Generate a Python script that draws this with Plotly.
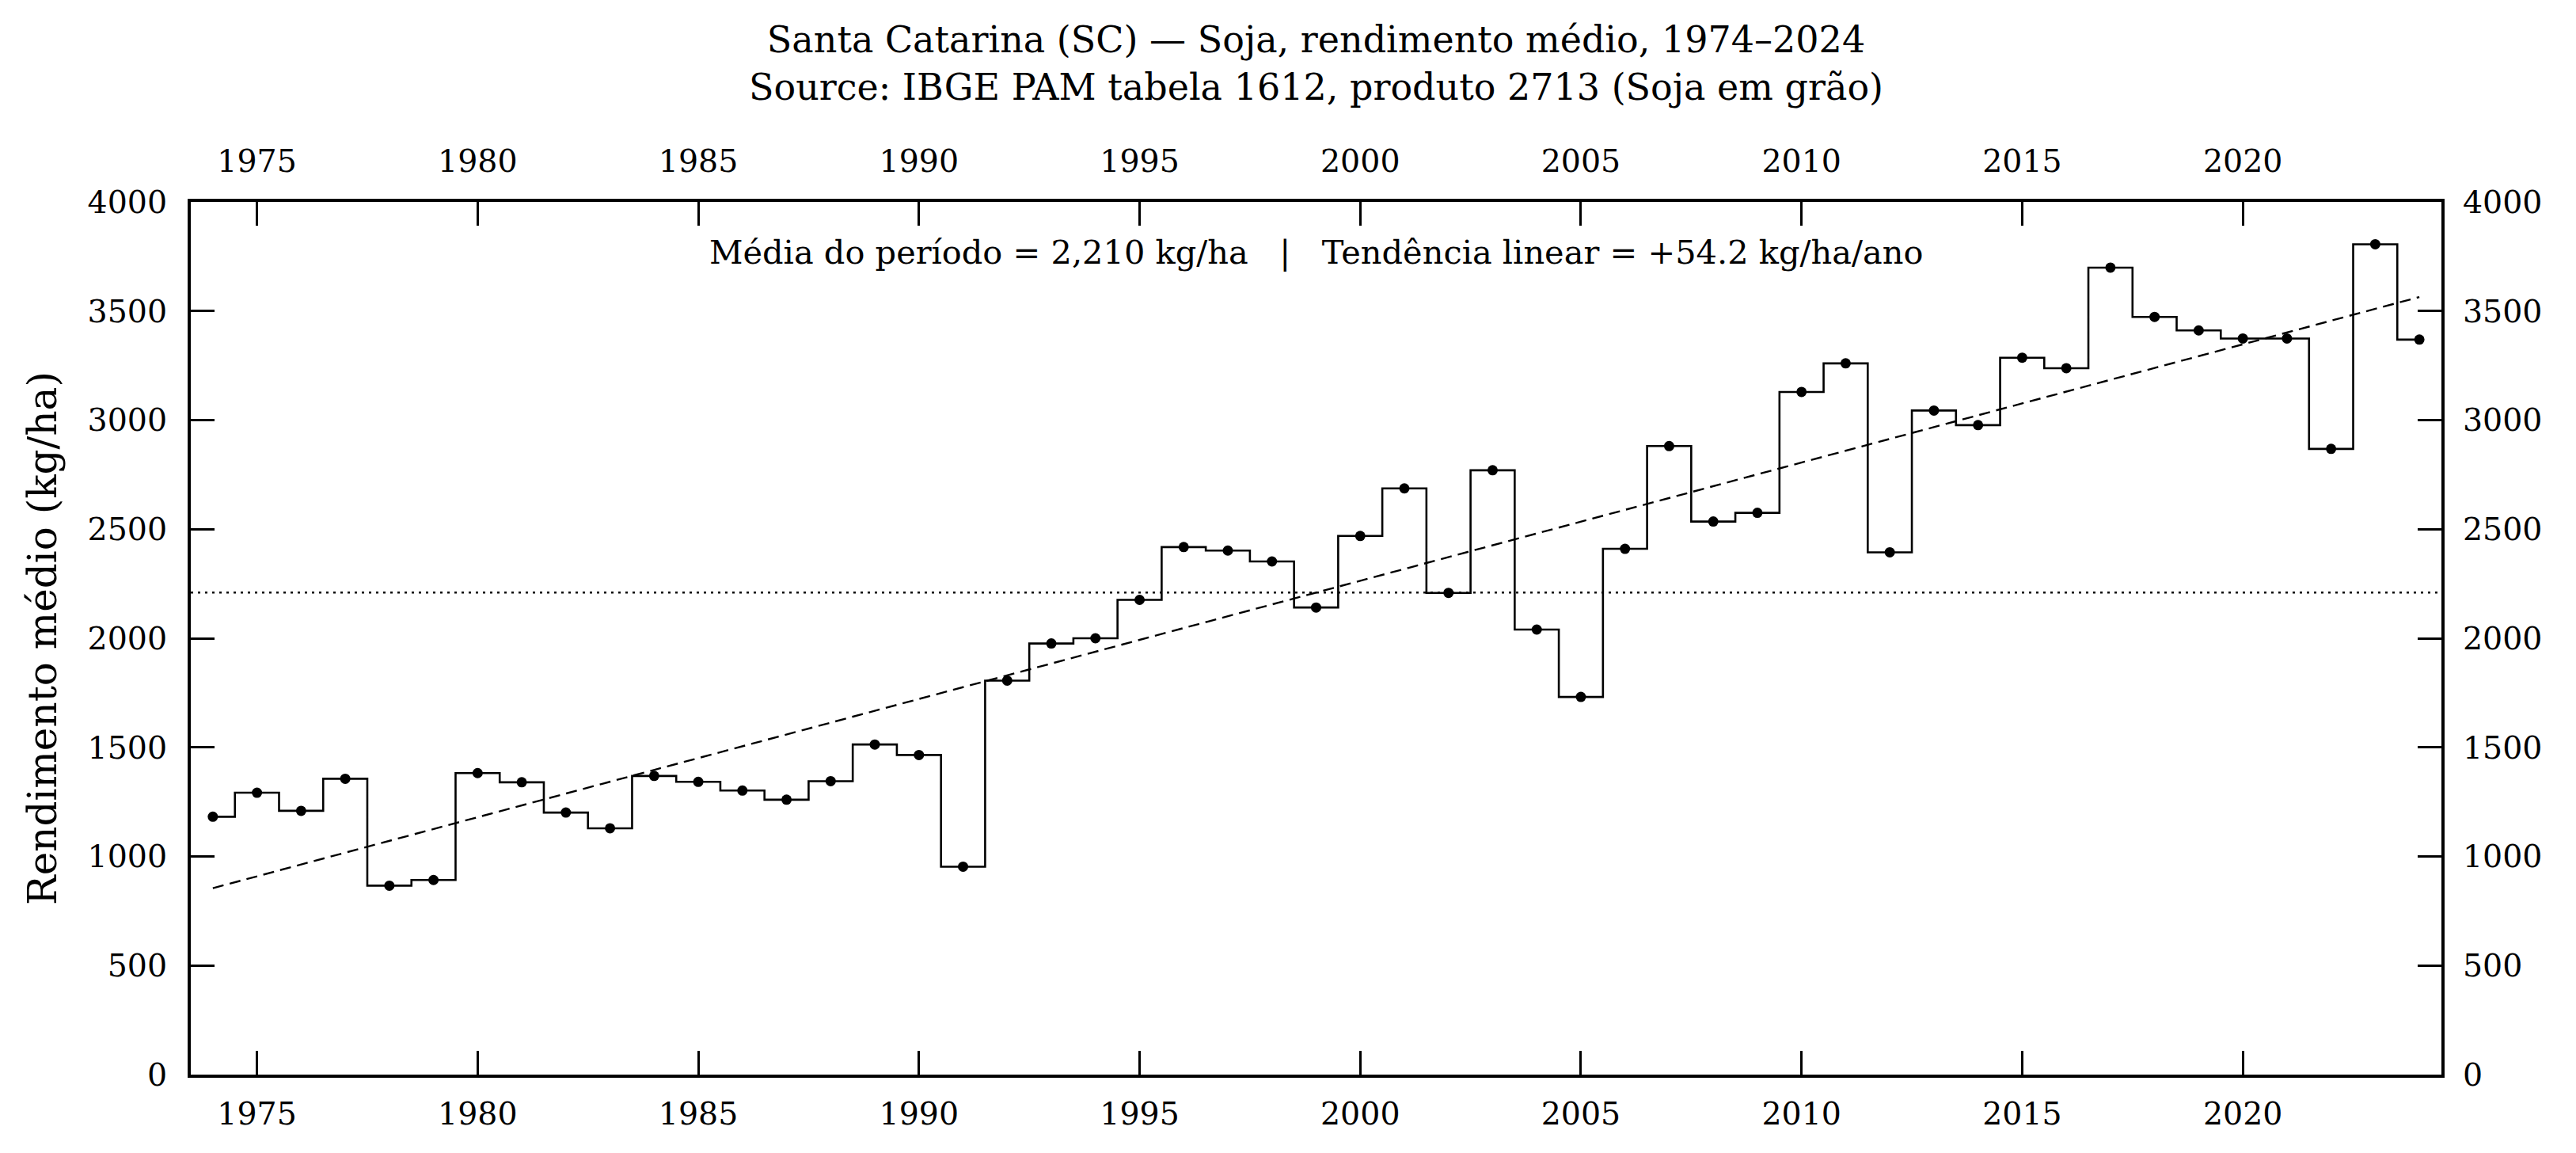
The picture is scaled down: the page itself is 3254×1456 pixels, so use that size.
import numpy as np
import plotly.graph_objects as go

years = list(range(1974, 2025))
yield_kg_ha = [
    1182, 1292, 1209, 1356, 866, 892, 1382, 1340, 1201, 1129,
    1369, 1342, 1302, 1260, 1345, 1513, 1465, 953, 1806, 1976,
    2000, 2176, 2418, 2402, 2352, 2141, 2469, 2687, 2208, 2770,
    2040, 1731, 2410, 2881, 2535, 2575, 3129, 3260, 2394, 3044,
    2977, 3286, 3238, 3699, 3473, 3411, 3374, 3374, 2868, 3806,
    3369,
]
x_ticks = [1975, 1980, 1985, 1990, 1995, 2000, 2005, 2010, 2015, 2020]
y_ticks = [0, 500, 1000, 1500, 2000, 2500, 3000, 3500, 4000]
title_line1 = "Santa Catarina (SC) — Soja, rendimento médio, 1974–2024"
title_line2 = "Source: IBGE PAM tabela 1612, produto 2713 (Soja em grão)"
annot_text = "Média do período = 2,210 kg/ha   |   Tendência linear = +54.2 kg/ha/ano"
y_label = "Rendimento médio (kg/ha)"

x_range = [1973.5, 2024.5]
y_range = [0, 4000]

yrs = np.array(years, dtype=float)
vals = np.array(yield_kg_ha, dtype=float)
mean_val = float(vals.mean())
slope, intercept = np.polyfit(yrs, vals, 1)
trend_x = [years[0], years[-1]]
trend_y = [intercept + slope * years[0], intercept + slope * years[-1]]

FONT = "DejaVu Serif"
W, H = 3254, 1456
L, R, T, B = 241, 170, 255, 99
plot_w = W - L - R

fig = go.Figure()

fig.add_trace(go.Scatter(
    x=years, y=yield_kg_ha, mode="lines",
    line=dict(shape="hvh", color="black", width=2.6),
    hoverinfo="skip", showlegend=False,
))
fig.add_trace(go.Scatter(
    x=years, y=yield_kg_ha, mode="markers",
    marker=dict(color="black", size=13),
    showlegend=False,
))
fig.add_trace(go.Scatter(
    x=trend_x, y=trend_y, mode="lines",
    line=dict(color="black", width=2.4, dash="14px,8px"),
    showlegend=False,
))
fig.add_trace(go.Scatter(
    x=x_range, y=[mean_val, mean_val], mode="lines",
    line=dict(color="black", width=2.4, dash="3px,6px"),
    showlegend=False,
))
# invisible trace to activate mirrored (top / right) labelled axes
fig.add_trace(go.Scatter(
    x=years, y=yield_kg_ha, mode="markers", xaxis="x2", yaxis="y2",
    marker=dict(opacity=0), hoverinfo="skip", showlegend=False,
))

axis_common = dict(
    showgrid=False, zeroline=False,
    showline=True, linecolor="black", linewidth=4,
    ticks="inside", ticklen=30, tickwidth=3, tickcolor="black",
    tickfont=dict(family=FONT, size=39.5, color="black"),
)

fig.update_layout(
    width=W, height=H,
    margin=dict(l=L, r=R, t=T, b=B),
    paper_bgcolor="white", plot_bgcolor="white",
    font=dict(family=FONT, color="black"),
    title=dict(
        text=title_line1 + "<br>" + title_line2,
        x=0.5, xanchor="center", xref="paper",
        y=1 - 66 / H, yanchor="middle", yref="container",
        font=dict(family=FONT, size=46, color="black"),
    ),
    xaxis=dict(range=x_range, tickvals=x_ticks, ticklabelstandoff=12, **axis_common),
    yaxis=dict(range=y_range, tickvals=y_ticks, ticklabelstandoff=18, **axis_common),
    xaxis2=dict(range=x_range, tickvals=x_ticks, overlaying="x", side="top",
                anchor="y", ticklabelstandoff=18, **axis_common),
    yaxis2=dict(range=y_range, tickvals=y_ticks, overlaying="y", side="right",
                anchor="x", ticklabelstandoff=15, **axis_common),
    annotations=[
        dict(text=annot_text, x=0.5, y=1 - 63 / (H - T - B), xref="paper", yref="paper",
             xanchor="center", yanchor="middle", showarrow=False,
             font=dict(family=FONT, size=41.5, color="black")),
        dict(text=y_label, x=(54 - L) / plot_w, y=0.5, xref="paper", yref="paper",
             xanchor="center", yanchor="middle", textangle=-90, showarrow=False,
             font=dict(family=FONT, size=50, color="black")),
    ],
)

fig.write_html("out.html")
